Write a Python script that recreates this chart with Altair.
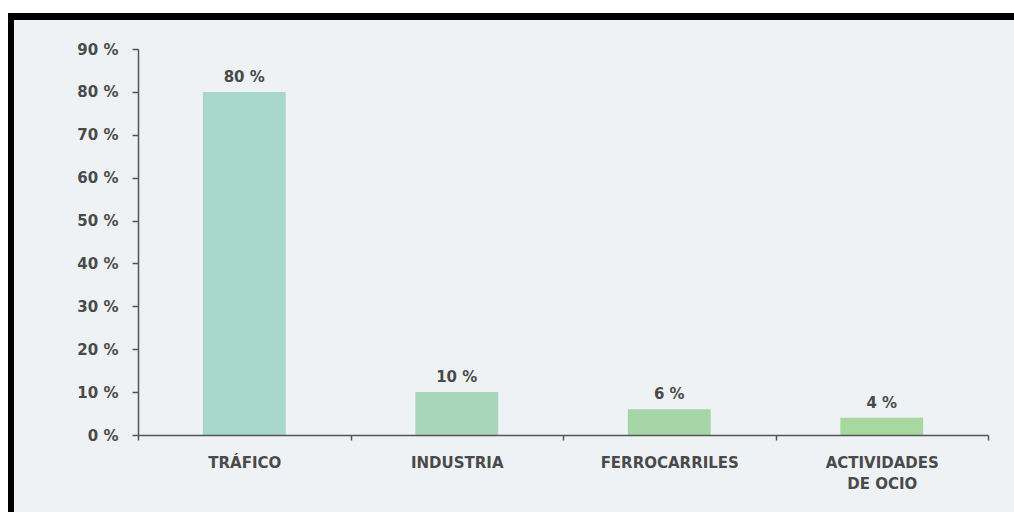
import altair as alt
import pandas as pd

categories = ["TRÁFICO", "INDUSTRIA", "FERROCARRILES", "ACTIVIDADES\nDE OCIO"]
values = [80, 10, 6, 4]
labels = ["80 %", "10 %", "6 %", "4 %"]
colors = ["#a9d7c9", "#a8d6b8", "#a6d5a7", "#a7d89f"]

df = pd.DataFrame({"cat": categories, "val": values, "label": labels, "color": colors})
one = pd.DataFrame({"k": [0]})

FONT = "DejaVu Sans"
AXIS_COLOR = "#555555"
TEXT_COLOR = "#4a4a4a"

x_enc = alt.X(
    "cat:N",
    sort=categories,
    scale=alt.Scale(paddingInner=0, paddingOuter=0),
    axis=alt.Axis(
        title=None,
        labelAngle=0,
        ticks=True,
        tickBand="extent",
        labelExpr="split(datum.label, '\\n')",
        labelFont=FONT,
        labelFontWeight="bold",
        labelFontSize=15,
        labelColor=TEXT_COLOR,
        labelPadding=15,
        labelLineHeight=21,
        domainColor=AXIS_COLOR,
        domainWidth=1.5,
        tickColor=AXIS_COLOR,
        tickWidth=1.5,
        tickSize=5,
        zindex=2,
    ),
)
y_enc = alt.Y(
    "val:Q",
    scale=alt.Scale(domain=[0, 90], nice=False),
    axis=alt.Axis(
        title=None,
        values=list(range(0, 100, 10)),
        labelExpr="datum.value + ' %'",
        labelFont=FONT,
        labelFontWeight="bold",
        labelFontSize=15,
        labelColor=TEXT_COLOR,
        labelPadding=14,
        domainColor=AXIS_COLOR,
        domainWidth=1.5,
        tickColor=AXIS_COLOR,
        tickWidth=1.5,
        tickSize=6,
        grid=False,
        zindex=2,
    ),
)

border = alt.Chart(one).mark_rect(color="#000000").encode(
    x=alt.value(-130), x2=alt.value(876), y=alt.value(-36), y2=alt.value(463)
)
panel = alt.Chart(one).mark_rect(color="#eef2f5").encode(
    x=alt.value(-124), x2=alt.value(876), y=alt.value(-29), y2=alt.value(463)
)

bars = alt.Chart(df).mark_bar(width=alt.RelativeBandSize(0.39)).encode(
    x=x_enc,
    y=y_enc,
    color=alt.Color("color:N", scale=None),
)
text = alt.Chart(df).mark_text(
    dy=-10, baseline="alphabetic", font=FONT, fontWeight="bold", fontSize=15, color=TEXT_COLOR
).encode(
    x=alt.X("cat:N", sort=categories),
    y="val:Q",
    text="label:N",
)

chart = alt.layer(border, panel, bars, text).properties(
    width=850,
    height=386,
    autosize=alt.AutoSizeParams(type="none"),
    padding={"left": 138, "top": 49, "right": 26, "bottom": 77},
    background="#ffffff",
).configure_view(stroke=None)

chart.save("out.html", embed_options={"renderer": "svg", "actions": False})
